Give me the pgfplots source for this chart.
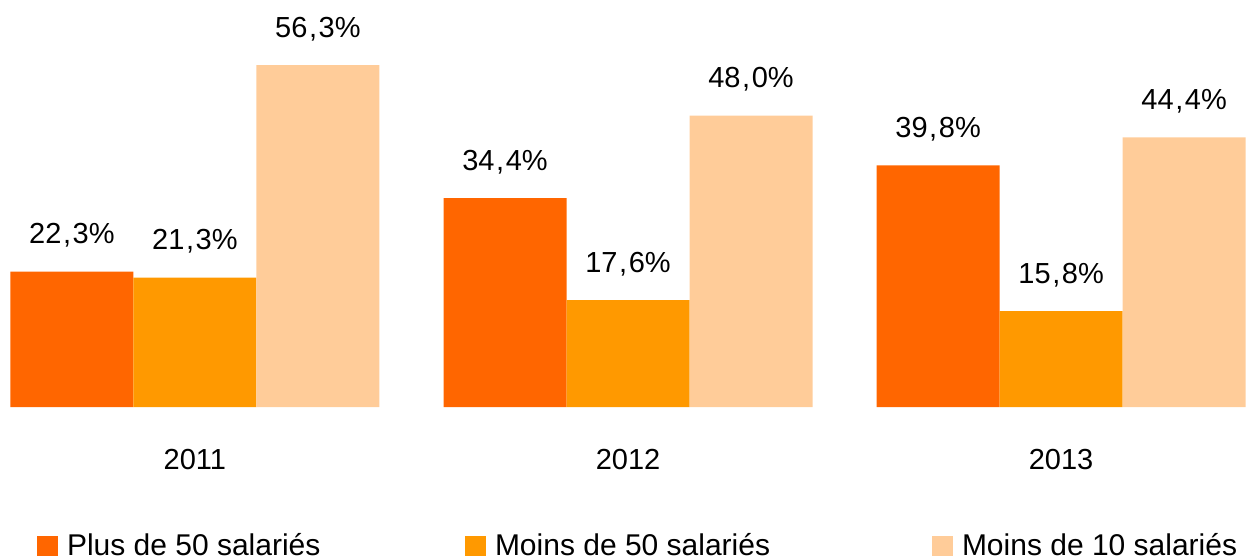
\documentclass[border=0pt]{standalone}
\usepackage{fontspec}
\setmainfont{Liberation Sans}
\usepackage{pgfplots}
\pgfplotsset{compat=1.18}
\definecolor{c1}{HTML}{FF6600}
\definecolor{c2}{HTML}{FF9900}
\definecolor{c3}{HTML}{FFCC99}
\newcommand{\lf}{\fontsize{14.5}{16}\selectfont}
\newcommand{\lgf}{\fontsize{15}{17}\selectfont}
\begin{document}
\begin{tikzpicture}
\begin{axis}[
  scale only axis, width=628pt, height=280pt,
  xmin=-0.45, xmax=2.45, ymin=-25.2, ymax=67.05,
  hide axis, clip=false,
  ybar=0pt, bar width=61.5pt,
  nodes near coords={\pgfmathprintnumber[fixed,fixed zerofill,precision=1,set decimal separator={\kern0.8pt,\kern0.8pt},assume math mode=true]{\pgfplotspointmeta}\%},
  nodes near coords style={font=\lf, anchor=base, yshift=14pt, text=black},
  legend columns=3,
  legend style={draw=none, fill=none, at={(axis description cs:0,0)}, anchor=south west, inner sep=0pt, outer sep=0pt, font=\lgf, column sep=0pt, yshift=-1.5pt, xshift=18.5pt},
  legend cell align=left,
  legend image code/.code={\fill[#1,draw=none] (0pt,-5pt) rectangle (10.5pt,5pt);},
]
\addplot[fill=c1, draw=none] coordinates {(0,22.3) (1,34.4) (2,39.8)};
\addplot[fill=c2, draw=none] coordinates {(0,21.3) (1,17.6) (2,15.8)};
\addplot[fill=c3, draw=none] coordinates {(0,56.3) (1,48.0) (2,44.4)};
\legend{\hspace*{2.5pt}\makebox[197pt][l]{Plus de 50 salariés}, \hspace*{2.5pt}\makebox[216.5pt][l]{Moins de 50 salariés}, \hspace*{2.5pt}Moins de 10 salariés}
\node[font=\lf] at (axis cs:0,-8.7) {2011};
\node[font=\lf] at (axis cs:1,-8.7) {2012};
\node[font=\lf] at (axis cs:2,-8.7) {2013};
\end{axis}
\pgfresetboundingbox
\useasboundingbox (0,0) rectangle (628pt,280pt);
\end{tikzpicture}
\end{document}
